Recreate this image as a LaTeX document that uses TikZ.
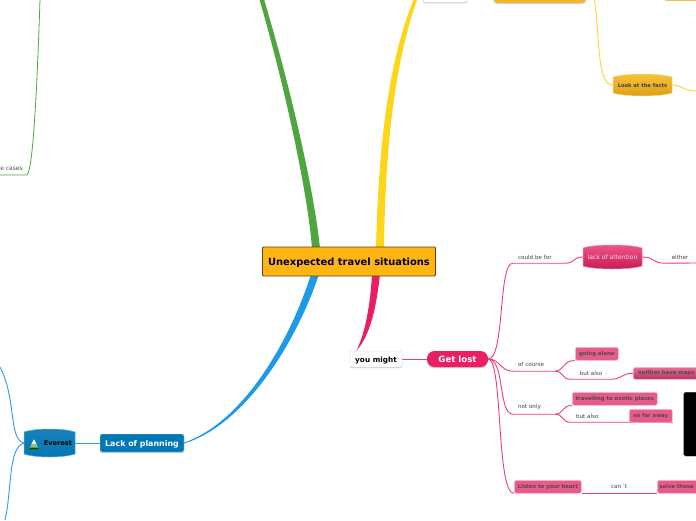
\documentclass[tikz,border=0pt]{standalone}
\usepackage{fontspec}
\setmainfont{DejaVu Sans}
\usetikzlibrary{backgrounds,calc,shadows}
\definecolor{pinkline}{HTML}{EA3D78}
\definecolor{pinkmain}{HTML}{E91E63}
\definecolor{pinkbox}{HTML}{E85A8C}
\definecolor{blueline}{HTML}{2F9BE6}
\definecolor{bluemain}{HTML}{1E9BE8}
\definecolor{bluebox}{HTML}{0277B5}
\definecolor{greenmain}{HTML}{4EA63E}
\definecolor{yellowmain}{HTML}{FDD61C}
\definecolor{yellowline}{HTML}{FBD530}
\definecolor{goldtop}{HTML}{F7C33D}
\definecolor{goldbot}{HTML}{DB9F12}
\tikzset{
  x=1pt,y=-1pt,
  softshadow/.style={drop shadow={opacity=0.4,shadow xshift=0pt,shadow yshift=-1.2pt}},
  txt/.style={font=\fontsize{5.6}{7}\selectfont,text=black!75,inner sep=0pt,align=center,minimum height=12pt},
  ltxt/.style={font=\fontsize{5.6}{7}\selectfont,text=black!75,inner sep=0pt,align=left,minimum height=12pt},
  hbox/.style={rectangle,rounded corners=1.5pt,inner sep=0pt,anchor=north west,font=\fontsize{5.35}{7}\selectfont\bfseries,text=black!70},
  pinkb/.style={hbox,fill=pinkbox,draw=pinkbox!40,line width=0.6pt},
  whiteb/.style={rectangle,rounded corners=2pt,fill=white,draw=black!12,line width=0.5pt,inner sep=0pt,softshadow},
  barreltext/.style={rectangle,inner sep=0pt,font=\fontsize{6.1}{7}\selectfont},
  pinkl/.style={draw=pinkline,line width=0.9pt},
  bluel/.style={draw=blueline,line width=0.9pt},
  yell/.style={draw=yellowline,line width=0.9pt},
  greenl/.style={draw=greenmain,line width=0.8pt},
}
% barrel: name, x1, y1, x2, y2, top colour, bottom colour, rim colour, text style, then the node text follows
\newcommand{\barrelnode}[9]{%
  \path[top color=#6,bottom color=#7,draw=#8,line width=0.5pt]
    (#2,{#3+3}) .. controls ({#2+12},{#3-1}) and ({#4-12},{#3-1}) .. (#4,{#3+3})
    -- (#4,{#5-3}) .. controls ({#4-12},{#5+1}) and ({#2+12},{#5+1}) .. (#2,{#5-3}) -- cycle;
  \node[barreltext,minimum width={(#4-#2)*1pt},minimum height={(#5-#3)*1pt},#9] (#1) at ({(#2+#4)/2},{(#3+#5)/2})}
\newcommand{\dn}[2]{\raisebox{-#1pt}[\height][\depth]{#2}}
\begin{document}
\begin{tikzpicture}
\useasboundingbox (0,0) rectangle (696,520);
% root
\node[rectangle,rounded corners=1pt,fill={rgb,255:red,255;green,182;blue,18},draw={rgb,255:red,105;green,62;blue,15},line width=0.8pt,minimum width=173pt,minimum height=29pt,inner sep=0pt,font=\fontsize{9.9}{11}\selectfont\bfseries] (root) at (349,261.5) {\dn{0.8}{Unexpected travel situations}};
% get lost side
\node[whiteb,minimum width=52pt,minimum height=16pt,font=\fontsize{7.3}{9}\selectfont\bfseries] (might) at (376,359) {\dn{1.3}{you might}};
\node[rectangle,rounded corners=7.5pt,fill=pinkmain,minimum width=61pt,minimum height=16pt,inner sep=0pt,text=white,font=\fontsize{8.6}{10}\selectfont\bfseries,softshadow] (lost) at (457.5,359) {\dn{0.4}{Get lost}};
\barrelnode{attn}{583}{245}{642}{269}{pinkmain!75!white}{pinkmain!85!black}{pinkbox!70}{text=white!85!pinkmain}{\dn{0.5}{lack of attention}};
\node[ltxt,text width=52pt] (couldbe) at (539,257) {\hspace*{5pt}could be for};
\coordinate (eitherR) at (696,263);
\node[txt,minimum width=31pt] (either) at (680,257) {either};
\node[ltxt,text width=42pt,minimum height=14pt] (ofcourse) at (534,364) {\hspace*{5pt}of course};
\node[pinkb,minimum width=43pt,minimum height=13pt] (alone) at (575,347) {going alone};
\node[txt,minimum width=42pt] (butalso1) at (591,373) {but also};
\node[hbox,draw=pinkbox!40,line width=0.6pt,top color=pinkbox!90!white,bottom color=pinkmain!70!black!85!white,minimum width=66pt,minimum height=12pt] (maps) at (633,367) {neither have maps};
\node[ltxt,text width=42pt,minimum height=14pt] (notonly) at (534,407) {\hspace*{5pt}not only};
\node[pinkb,minimum width=85pt,minimum height=13pt] (exotic) at (572,392) {travelling to exotic places};
\node[ltxt,text width=59pt] (butalso2) at (599.5,416) {\hspace*{6pt}but also};
\node[pinkb,minimum width=43pt,minimum height=13pt] (far) at (629,409) {so far away};
\node[rectangle,rounded corners=1.5pt,fill=black,draw=black!35,line width=0.4pt,minimum width=16pt,minimum height=64pt,inner sep=0pt,anchor=north west] (photo) at (683.5,392) {};
\node[pinkb,minimum width=67pt,minimum height=13pt] (heart) at (514,480) {Listen to your heart};
\node[txt,minimum width=76pt,minimum height=14pt] (cant) at (619,486) {can\,´t};
\node[pinkb,minimum width=48pt,minimum height=13pt,text width=44pt,align=left] (solve) at (657,480) {solve these};
% yellow side
\node[whiteb,minimum width=44pt,minimum height=16pt,anchor=south west] (wtop) at (423,2.5) {};
\node[rectangle,rounded corners=4pt,fill={rgb,255:red,250;green,178;blue,30},draw=black!20,line width=0.5pt,minimum width=93pt,minimum height=16pt,inner sep=0pt,anchor=south west,softshadow] (otop) at (493,3) {};
\node[rectangle,rounded corners=3pt,fill=goldtop,minimum width=40pt,minimum height=10pt,inner sep=0pt,anchor=south west] (otop2) at (663,1) {};
\barrelnode{facts}{613}{74}{672}{96}{goldtop}{goldbot}{goldtop!60!white}{font=\fontsize{5.2}{7}\selectfont\bfseries,text=black!75}{\dn{0.4}{Look at the facts}};
% blue side
\node[rectangle,rounded corners=2pt,fill=bluebox,draw=black!12,line width=0.4pt,minimum width=84pt,minimum height=18pt,inner sep=0pt,text=white,font=\fontsize{7.9}{9}\selectfont\bfseries,softshadow] (plan) at (142,443) {\dn{1.0}{Lack of planning}};
\barrelnode{ever}{24}{429}{75}{457}{bluebox!92!white}{bluebox}{bluebox!60!white}{font=\fontsize{6.6}{8}\selectfont\bfseries,text=black,text width=45pt,align=right}{\dn{0.6}{Everest}};
% mountain icon
\node[inner sep=0pt,minimum width=10pt,minimum height=9pt] (icon) at (34,445) {};
\fill[black!55!green!45!white] (icon.south west) -- (34,439) -- (icon.south east) -- cycle;
\fill[green!30!black] (icon.south west) -- ++(1,-2) -- ++(8,0) -- (icon.south east) -- cycle;
\fill[white] (31.5,444) -- (34,439.5) -- (36.5,444) -- (35,443) -- (34,444.5) -- (33,443) -- cycle;
\node[font=\fontsize{6}{7}\selectfont,text=black!70,inner sep=0pt,anchor=east,minimum height=12pt] (cases) at (23,168.5) {e cases};
\coordinate (leftA) at (0,175);
\coordinate (topG) at (40,0);
\coordinate (topB) at (0,367);
\coordinate (botB) at (5,520);
\begin{scope}[on background layer]
  % main tapered branches
  \fill[greenmain] ($(root.north)+(-37,2)$) .. controls (309,205) and (290,105) .. (258.5,-4) -- (263,-4) .. controls (296,105) and (316,205) .. ($(root.north)+(-29,2)$) -- cycle;
  \fill[yellowmain] ($(root.north)+(27,2)$) .. controls (378,170) and (384,70) .. (415,-4) -- (418.5,-4) .. controls (391,70) and (385,170) .. ($(root.north)+(35,2)$) -- cycle;
  \fill[bluemain] ($(root.south)+(-38,-2)$) .. controls (287,349) and (239,424) .. ($(plan.east)+(0,-0.5)$) -- ($(plan.east)+(0,0.5)$) .. controls (241,426) and (293,351) .. ($(root.south)+(-30,-2)$) -- cycle;
  \fill[pinkmain] ($(root.south)+(23,-2)$) .. controls (370,310) and (364,335) .. ($(might.north)+(-19.5,0)$) .. controls (370,335) and (376,310) .. ($(root.south)+(31,-2)$) -- cycle;
  % pink
  \draw[pinkl] (might.east) -- (lost.west);
  \draw[pinkl] (lost.east) .. controls (505,359) and (498,263) .. (couldbe.south west) -- (couldbe.south east) .. controls (575,263) and (573,257) .. (attn.west);
  \draw[pinkl] (attn.east) .. controls (655,257) and (652,263) .. (either.south west) -- (eitherR);
  \draw[pinkl] (lost.east) .. controls (500,359) and (500,371) .. (ofcourse.south west) -- (ofcourse.south east);
  \draw[pinkl] (ofcourse.south east) .. controls (564,371) and (563,360) .. (alone.south west);
  \draw[pinkl] (ofcourse.south east) .. controls (563,371) and (562,379) .. (butalso1.south west) -- (butalso1.south east) .. controls (622,379) and (622,373) .. (maps.west);
  \draw[pinkl] (lost.east) .. controls (505,359) and (498,414) .. (notonly.south west) -- (notonly.south east);
  \draw[pinkl] (notonly.south east) .. controls (564,414) and (562,405) .. (exotic.south west);
  \draw[pinkl] (notonly.south east) .. controls (563,414) and (562,422) .. (butalso2.south west) -- (butalso2.south east) -- (far.south east);
  \draw[pinkl] (lost.east) .. controls (503,359) and (496,493) .. (heart.south west);
  \draw[pinkl] (heart.south east) -- (solve.south west);
  % yellow
  \draw[yell] (otop.south east) ++(8,-3.5) .. controls (600,40) and (597,85) .. (facts.west);
  \draw[yell] (facts.east) .. controls (682,85) and (684,91) .. (696,91);
  % blue
  \draw[bluel] (ever.east) -- (plan.west);
  \draw[bluel] (ever.west) .. controls (8,438) and (17,400) .. (topB);
  \draw[bluel] (ever.west) .. controls (8,448) and (12,490) .. (botB);
  % green
  \draw[greenl] (leftA) -- (27,175) .. controls (33,170) and (37,90) .. (topG);
\end{scope}
\end{tikzpicture}
\end{document}
